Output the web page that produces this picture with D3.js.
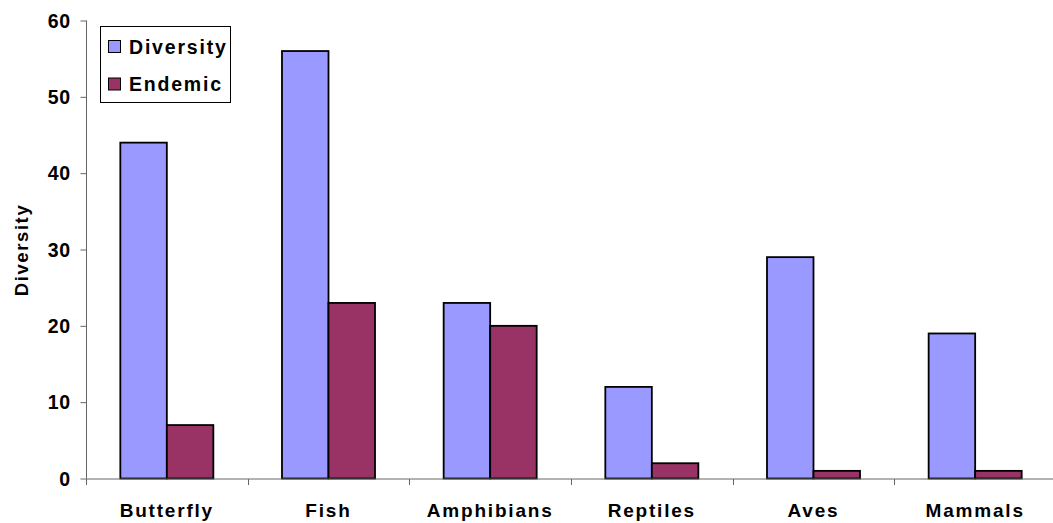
<!DOCTYPE html>
<html>
<head>
<meta charset="utf-8">
<script src="https://cdn.jsdelivr.net/npm/d3@7"></script>
<style>
  html, body { margin: 0; padding: 0; background: #fff; }
  svg { display: block; }
  text { font-family: Arial, "Liberation Sans", sans-serif; font-weight: bold; fill: #000; }
</style>
</head>
<body>
<svg id="chart" width="1053" height="523"></svg>
<script>
const categories = ["Butterfly", "Fish", "Amphibians", "Reptiles", "Aves", "Mammals"];
const seriesNames = ["Diversity", "Endemic"];
const diversity = [44, 56, 23, 12, 29, 19];
const endemic = [7, 23, 20, 2, 1, 1];
const yTicks = [0, 10, 20, 30, 40, 50, 60];
const colors = ["#9999FF", "#993366"];

const svg = d3.select("#chart");
const values = [diversity, endemic];

const x0 = d3.scaleBand().domain(categories).range([86, 1056]).padding(0);
const x1 = d3.scaleBand().domain(seriesNames).range([0, x0.bandwidth()]).paddingInner(0).paddingOuter(0.738);
const y = d3.scaleLinear().domain([0, 60]).range([478.5, 20.5]);

// bars
const groups = svg.append("g").selectAll("g")
  .data(categories).join("g")
  .attr("transform", d => `translate(${x0(d)},0)`);

groups.selectAll("rect")
  .data((d, i) => seriesNames.map((s, j) => ({ s, v: values[j][i], j })))
  .join("rect")
  .attr("x", d => x1(d.s))
  .attr("y", d => y(d.v))
  .attr("width", x1.bandwidth())
  .attr("height", d => y(0) - y(d.v))
  .attr("fill", d => colors[d.j])
  .attr("stroke", "#000")
  .attr("stroke-width", 1.8);

// y axis
const yAxis = d3.axisLeft(y).tickValues(yTicks).tickSize(6).tickPadding(10).tickFormat(d3.format("d"));
const gy = svg.append("g").attr("transform", "translate(86.5,0)").call(yAxis);
gy.select(".domain").attr("stroke", "#666").attr("d", `M0,${y(60)}V${y(0)}`);
gy.selectAll(".tick line").attr("stroke", "#666");
gy.selectAll(".tick text")
  .style("font-size", "19.5px").style("font-family", "Arial, 'Liberation Sans', sans-serif")
  .style("font-weight", "bold").style("letter-spacing", "0.5px").attr("fill", "#000").attr("dy", "0.35em");

// x axis
const gx = svg.append("g").attr("transform", `translate(0,${y(0) + 0.5})`);
gx.append("line").attr("x1", 86).attr("x2", 1053).attr("y1", 0).attr("y2", 0).attr("stroke", "#666");
const boundaries = categories.map(c => x0(c)).concat([x0(categories[categories.length - 1]) + x0.bandwidth()]);
gx.selectAll("line.tk").data(boundaries).join("line").attr("class", "tk")
  .attr("x1", d => Math.round(d) + 0.5).attr("x2", d => Math.round(d) + 0.5)
  .attr("y1", 0).attr("y2", 6).attr("stroke", "#666");
gx.selectAll("text").data(categories).join("text")
  .attr("x", d => x0(d) + x0.bandwidth() / 2)
  .attr("y", 38)
  .attr("text-anchor", "middle")
  .style("font-size", "19px")
  .style("letter-spacing", "1.8px")
  .text(d => d);

// y title
svg.append("text")
  .attr("transform", "translate(28,250) rotate(-90)")
  .attr("text-anchor", "middle")
  .style("font-size", "18.5px")
  .style("letter-spacing", "1.6px")
  .text("Diversity");

// legend
const lg = svg.append("g");
lg.append("rect").attr("x", 100.5).attr("y", 26.5).attr("width", 130).attr("height", 76)
  .attr("fill", "#fff").attr("stroke", "#000").attr("stroke-width", 1);
const items = lg.selectAll("g.item").data(seriesNames).join("g").attr("class", "item")
  .attr("transform", (d, i) => `translate(0,${i * 37.5})`);
items.append("rect").attr("x", 108.5).attr("y", 40.5).attr("width", 12).attr("height", 12)
  .attr("fill", (d, i) => colors[i]).attr("stroke", "#000").attr("stroke-width", 1);
items.append("text").attr("x", 129).attr("y", 53.5)
  .style("font-size", "19.5px").style("letter-spacing", "1.8px")
  .text(d => d);
</script>
</body>
</html>
